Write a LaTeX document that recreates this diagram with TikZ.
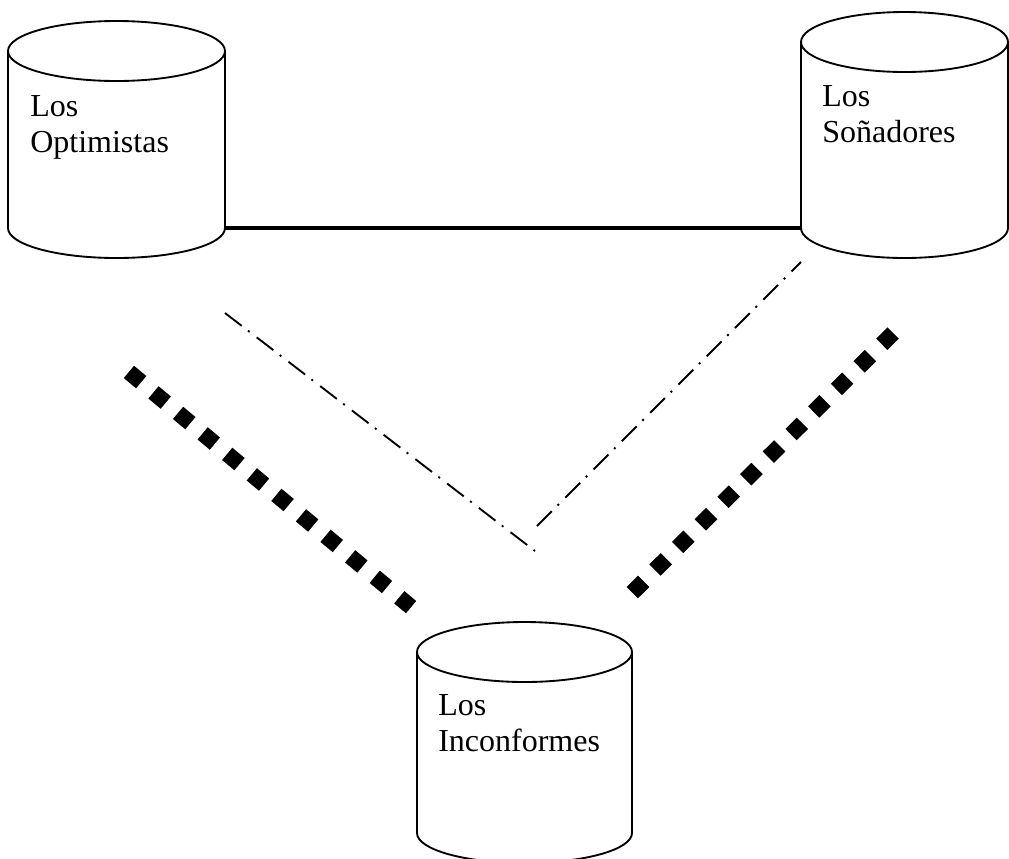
\documentclass[tikz,border=0pt]{standalone}
\usepackage{fontspec}
\setmainfont{Liberation Serif}
\usetikzlibrary{calc}

% contorno de cilindro sobre un nodo rectangular
\newcommand{\cilindro}[2]{%
  \draw[borde] ($(#1.north)+(0,30)$) ellipse [x radius=#2, y radius=30];
  \draw[borde] ($(#1.north west)+(0,30)$) coordinate (#1-ai)
    -- ($(#1.south west)+(0,-30)$) coordinate (#1-bi)
    arc[start angle=180, end angle=0, x radius=#2, y radius=30]
    coordinate (#1-bd)
    -- ($(#1.north east)+(0,30)$) coordinate (#1-ad);
}

\begin{document}
\begin{tikzpicture}[
  x=0.75pt, y=-0.75pt,
  grupo/.style={rectangle, inner sep=0pt, outer sep=0pt,
                minimum width=162.75pt, minimum height=177.75pt},
  borde/.style={line width=1.4pt},
  nombre/.style={anchor=north west, inner sep=0pt, align=left,
                 font=\fontsize{24}{27.4}\selectfont},
  enlace/.style={line width=2.5pt},
  rayado/.style={line width=1.4pt,
                 dash pattern=on 15.75pt off 6pt on 1.5pt off 6.75pt},
  cuadros/.style={line width=12pt, dash pattern=on 12pt off 12pt}
]
\useasboundingbox (0,0) rectangle (1009,858);

% Grupos
\node[grupo] (opt) at (116.5,139.5) {};
\node[grupo, minimum width=155.25pt, minimum height=184.5pt] (son) at (904.5,135) {};
\node[grupo, minimum width=161.25pt, minimum height=180.75pt] (inc) at (524.5,742.5) {};
\cilindro{opt}{108.5}
\cilindro{son}{103.5}
\cilindro{inc}{107.5}

% Nombres
\node[nombre] (optT) at (30,95) {Los\\Optimistas};
\node[nombre] (sonT) at (822,85) {Los\\Soñadores};
\node[nombre] (incT) at (438,694) {Los\\Inconformes};

% Extremos libres
\coordinate (r1a) at (225,313);
\coordinate (r1b) at (535,551);
\coordinate (r2a) at (537,526);
\coordinate (r2b) at (801,262);
\coordinate (c1a) at (128.9,371.9);
\coordinate (c1b) at (411.1,607.1);
\coordinate (c2a) at (632.3,592.6);
\coordinate (c2b) at (893.7,332.4);

% Enlaces
\draw[enlace] (opt-bd) -- (son-bi);
\draw[rayado] (r1a) -- (r1b);
\draw[rayado] (r2a) -- (r2b);
\draw[cuadros] (c1a) -- (c1b);
\draw[cuadros] (c2a) -- (c2b);
\end{tikzpicture}
\end{document}
